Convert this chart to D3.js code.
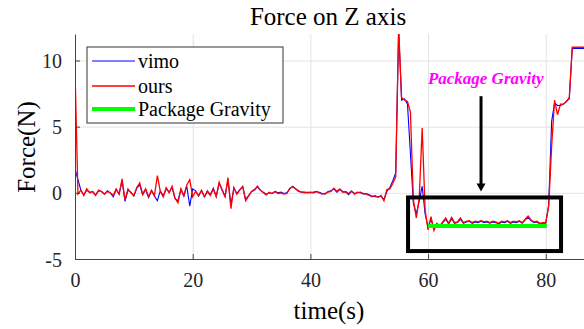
<!DOCTYPE html>
<html>
<head>
<meta charset="utf-8">
<script src="https://cdn.jsdelivr.net/npm/d3@7"></script>
<style>
  body { margin: 0; background: #fff; }
  svg { display: block; font-family: "Liberation Serif", "Times New Roman", serif; }
</style>
</head>
<body>
<svg id="chart" width="584" height="329"></svg>
<script>
// sample times (s), one sample every 0.5 s from 0 to 86.5
const time = d3.range(0, 87, 0.5);

// force readings (N)
const vimo = [
  1.8, 1.0, 0.2, -0.15, 0.2, 0.05, 0.1, -0.15, 0.15, 0.1,
  -0.1, 0.15, 0.0, -0.3, 0.25, -0.1, 0.9, -0.65, 0.2, 0.05,
  -0.25, 0.35, 0.6, -0.15, 0.25, -0.35, 0.15, -0.25, -0.6, 0.15,
  -0.25, 0.3, 0.05, 0.4, -0.45, -0.6, 0.25, -0.25, 0.5, -1.0,
  0.3, 0.15, -0.25, 0.15, -0.3, 0.15, -0.15, 0.35, -0.25, 0.7,
  0.25, -0.25, 0.95, -0.9, 0.35, -0.05, 0.25, 0.45, -0.5, -0.2,
  0.1, 0.25, 0.45, 0.2, 0.05, -0.1, 0.0, -0.05, 0.1, 0.0,
  0.05, -0.05, 0.0, 0.3, 0.5, 0.3, 0.1, 0.05, 0.05, 0.0,
  0.05, 0.0, 0.1, 0.05, -0.05, -0.1, 0.1, 0.15, 0.3, 0.05,
  0.25, 0.1, 0.05, -0.15, 0.1, -0.05, 0.0, 0.05, -0.1, -0.05,
  -0.15, -0.25, -0.3, -0.3, -0.25, -0.5, 0.1, 0.4, 0.9, 1.5,
  12.3, 7.0, 7.1, 6.7, 3.0, -0.8, -1.6, -0.6, 0.5, -1.6,
  -2.6, -2.0, -2.7, -2.4, -2.55, -2.25, -2.0, -2.35, -1.95, -2.3,
  -2.25, -2.0, -2.3, -2.2, -2.15, -2.3, -2.2, -2.25, -2.15, -2.25,
  -2.2, -2.3, -2.2, -2.25, -2.35, -2.2, -2.25, -2.15, -2.3, -2.2,
  -2.25, -2.15, -2.3, -2.05, -1.85, -2.1, -2.25, -2.2, -2.35, -2.3,
  -2.3, -0.9, 5.4, 6.8, 6.6, 6.6, 6.7, 6.9, 7.1, 10.9, 10.9, 10.9, 10.9, 10.9
];

const ours = [
  9.3, -0.1, 0.2, -0.2, 0.3, 0.0, 0.1, -0.2, 0.2, 0.1,
  -0.1, 0.1, 0.0, -0.2, 0.3, -0.1, 1.05, -0.55, 0.3, 0.0,
  -0.2, 0.4, 0.75, -0.1, 0.3, -0.3, 0.2, -0.2, 1.3, 0.1,
  -0.3, 0.4, 0.0, 0.5, -0.4, -0.75, 0.3, -0.2, 0.6, 1.0,
  -0.3, 0.1, -0.2, 0.2, -0.3, 0.1, -0.2, 0.3, -0.3, 0.8,
  0.2, -0.3, 1.15, -1.2, 0.4, -0.1, 0.2, 0.5, -0.6, -0.25,
  0.1, 0.2, 0.5, 0.2, 0.0, -0.15, 0.05, -0.05, 0.1, -0.05,
  0.0, -0.1, -0.05, 0.35, 0.45, 0.3, 0.15, 0.05, 0.0, 0.05,
  0.0, 0.05, 0.1, 0.0, -0.1, -0.05, 0.05, 0.1, 0.35, 0.1,
  0.3, 0.05, 0.1, -0.05, 0.15, -0.1, 0.05, 0.0, -0.05, -0.1,
  -0.2, -0.3, -0.2, -0.35, -0.2, -0.6, 0.25, 0.3, 0.7, 1.2,
  12.5, 7.2, 7.0, 6.9, 6.1, -0.5, -1.9, -0.4, 4.9, -1.3,
  -2.8, -1.8, -2.85, -2.3, -2.5, -2.2, -1.9, -2.3, -1.85, -2.25,
  -2.2, -1.9, -2.25, -2.15, -2.1, -2.25, -2.15, -2.2, -2.1, -2.2,
  -2.15, -2.25, -2.15, -2.2, -2.3, -2.15, -2.2, -2.1, -2.25, -2.15,
  -2.2, -2.1, -2.25, -2.0, -1.75, -2.05, -2.2, -2.15, -2.3, -2.25,
  -2.25, -1.0, 3.5, 7.0, 5.9, 6.7, 6.7, 6.9, 7.2, 11.0, 11.0, 11.0, 11.0, 11.0
];

// package gravity reference line
const gravityTime = [60, 80.2];
const gravityForce = [-2.5, -2.5];

// highlight box and arrow (data units)
const boxTime = [56.6, 82.6];
const boxForce = [-4.4, -0.35];
const arrowTime = 69;
const arrowForce = [7.3, 0.1];
const noteTime = 69.8;
const noteForce = 8.2;

const xTicks = [0, 20, 40, 60, 80];
const yTicks = [-5, 0, 5, 10];
const legendLabels = ["vimo", "ours", "Package Gravity"];

const svg = d3.select("#chart");
const plotLeft = 75, plotRight = 584, plotTop = 34, plotBottom = 259;

const x = d3.scaleLinear().domain([0, 86.5]).range([plotLeft, plotRight]);
const y = d3.scaleLinear().domain([-5, 12]).range([plotBottom, plotTop]);

// grid lines
svg.append("g")
  .attr("transform", `translate(0,${plotBottom})`)
  .call(d3.axisBottom(x).tickValues(xTicks.slice(1)).tickSize(-(plotBottom - plotTop)).tickFormat(""))
  .call(g => g.select(".domain").remove())
  .call(g => g.selectAll("line").attr("stroke", "#e3e3e3"));

svg.append("g")
  .attr("transform", `translate(${plotLeft},0)`)
  .call(d3.axisLeft(y).tickValues(yTicks.slice(1)).tickSize(-(plotRight - plotLeft)).tickFormat(""))
  .call(g => g.select(".domain").remove())
  .call(g => g.selectAll("line").attr("stroke", "#e3e3e3"));

// clip series to the plot area
svg.append("clipPath").attr("id", "plot-clip")
  .append("rect")
  .attr("x", plotLeft).attr("y", plotTop)
  .attr("width", plotRight - plotLeft).attr("height", plotBottom - plotTop);

const plot = svg.append("g").attr("clip-path", "url(#plot-clip)");

const line = d3.line()
  .x(d => x(d[0]))
  .y(d => y(d[1]));

plot.append("path")
  .attr("d", line(time.map((t, i) => [t, vimo[i]])))
  .attr("fill", "none")
  .attr("stroke", "#0000ff")
  .attr("stroke-width", 1.1);

plot.append("path")
  .attr("d", line(time.map((t, i) => [t, ours[i]])))
  .attr("fill", "none")
  .attr("stroke", "#ff0000")
  .attr("stroke-width", 1.3);

plot.append("path")
  .attr("d", line(gravityTime.map((t, i) => [t, gravityForce[i]])))
  .attr("fill", "none")
  .attr("stroke", "#00ff00")
  .attr("stroke-width", 4);

// black highlight box
svg.append("rect")
  .attr("x", x(boxTime[0]))
  .attr("y", y(boxForce[1]))
  .attr("width", x(boxTime[1]) - x(boxTime[0]))
  .attr("height", y(boxForce[0]) - y(boxForce[1]))
  .attr("fill", "none")
  .attr("stroke", "#000")
  .attr("stroke-width", 4);

// arrow pointing down into the box
const ax = x(arrowTime);
const ay0 = y(arrowForce[0]), ay1 = y(arrowForce[1]);
svg.append("line")
  .attr("x1", ax).attr("x2", ax)
  .attr("y1", ay0).attr("y2", ay1 - 6)
  .attr("stroke", "#000")
  .attr("stroke-width", 3);
svg.append("path")
  .attr("d", `M${ax - 4.5},${ay1 - 8} L${ax + 4.5},${ay1 - 8} L${ax},${ay1} Z`)
  .attr("fill", "#000");

svg.append("text")
  .attr("x", x(noteTime))
  .attr("y", y(noteForce))
  .attr("text-anchor", "middle")
  .attr("font-size", 17)
  .attr("font-weight", "bold")
  .attr("font-style", "italic")
  .attr("fill", "#ff00ff")
  .text("Package Gravity");

// axes, ticks point inward; plain hyphen for negatives like the original
const plainLabel = d => String(d);
const xAxis = svg.append("g")
  .attr("transform", `translate(0,${plotBottom})`)
  .call(d3.axisBottom(x).tickValues(xTicks).tickFormat(plainLabel)
    .tickSizeInner(-5).tickSizeOuter(0).tickPadding(14));
const yAxis = svg.append("g")
  .attr("transform", `translate(${plotLeft},0)`)
  .call(d3.axisLeft(y).tickValues(yTicks).tickFormat(plainLabel)
    .tickSizeInner(-5).tickSizeOuter(0).tickPadding(13));

[xAxis, yAxis].forEach(g => {
  g.attr("font-family", "Liberation Serif, Times New Roman, serif")
    .attr("font-size", 20);
  g.select(".domain").attr("stroke", "#444");
  g.selectAll(".tick line").attr("stroke", "#444");
  g.selectAll("text").attr("fill", "#262626");
});
yAxis.selectAll("text").attr("dy", "0.35em");

// titles
svg.append("text")
  .attr("x", 328).attr("y", 25)
  .attr("text-anchor", "middle")
  .attr("font-size", 25)
  .text("Force on Z axis");

svg.append("text")
  .attr("x", 329).attr("y", 319)
  .attr("text-anchor", "middle")
  .attr("font-size", 25)
  .text("time(s)");

svg.append("text")
  .attr("transform", "translate(35,147) rotate(-90)")
  .attr("text-anchor", "middle")
  .attr("font-size", 25)
  .text("Force(N)");

// legend
const legend = svg.append("g");
legend.append("rect")
  .attr("x", 87).attr("y", 47)
  .attr("width", 196).attr("height", 76)
  .attr("fill", "#fff")
  .attr("stroke", "#333")
  .attr("stroke-width", 1);

const legendColors = ["#0000ff", "#ff0000", "#00ff00"];
const legendWidths = [1.1, 1.3, 4];
const legendRows = [61, 86, 109];

legendLabels.forEach((name, i) => {
  legend.append("line")
    .attr("x1", 92).attr("x2", 135)
    .attr("y1", legendRows[i]).attr("y2", legendRows[i])
    .attr("stroke", legendColors[i])
    .attr("stroke-width", legendWidths[i]);
  legend.append("text")
    .attr("x", 138).attr("y", legendRows[i] + 7)
    .attr("font-size", 20)
    .text(name);
});
</script>
</body>
</html>
